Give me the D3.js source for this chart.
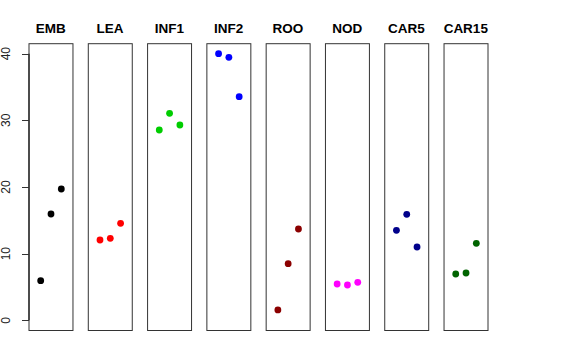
<!DOCTYPE html>
<html>
<head>
<meta charset="utf-8">
<script src="https://cdn.jsdelivr.net/npm/d3@7"></script>
<style>
  body { margin: 0; background: #fff; }
  svg { display: block; }
  text { font-family: "Liberation Sans", Arial, Helvetica, sans-serif; }
</style>
</head>
<body>
<svg id="chart" width="576" height="360"></svg>
<script>
const categories = ["EMB", "LEA", "INF1", "INF2", "ROO", "NOD", "CAR5", "CAR15"];
const colors = ["#000000", "#FF0000", "#00CD00", "#0000FF", "#8B0000", "#FF00FF", "#00008B", "#006400"];
const replicates = ["1", "2", "3"];
const values = [
  [5.95, 15.95, 19.7],
  [12.05, 12.3, 14.55],
  [28.55, 31.05, 29.3],
  [40.0, 39.45, 33.55],
  [1.55, 8.5, 13.7],
  [5.45, 5.3, 5.7],
  [13.5, 15.9, 11.0],
  [6.95, 7.1, 11.55]
];
const yTicks = [0, 10, 20, 30, 40];

const svg = d3.select("#chart");

const xBand = d3.scaleBand().domain(categories).range([28.5, 488]).paddingInner(0.25).paddingOuter(0);
const bw = xBand.bandwidth();
const xIn = d3.scalePoint().domain(replicates).range([12.2, 32.8]);
const y = d3.scaleLinear().domain([0, 40]).range([320.3, 53.7]);

const boxTop = 43.7, boxBottom = 330.5;

// panels
const panels = svg.selectAll("g.panel")
  .data(categories.map((c, i) => ({ cat: c, color: colors[i], vals: values[i] })))
  .join("g")
  .attr("class", "panel")
  .attr("transform", d => `translate(${xBand(d.cat)},0)`);

panels.append("rect")
  .attr("x", 0.5).attr("y", boxTop)
  .attr("width", bw - 0.5).attr("height", boxBottom - boxTop)
  .attr("fill", "none").attr("stroke", "#333").attr("stroke-width", 1);

panels.append("text")
  .attr("x", bw / 2).attr("y", 33)
  .attr("text-anchor", "middle")
  .attr("font-size", 13.5).attr("font-weight", "bold")
  .text(d => d.cat);

panels.selectAll("circle")
  .data(d => d.vals.map((v, j) => ({ v, rep: replicates[j], color: d.color })))
  .join("circle")
  .attr("cx", d => xIn(d.rep))
  .attr("cy", d => y(d.v))
  .attr("r", 3.4)
  .attr("fill", d => d.color);

// y axis
const axisG = svg.append("g").attr("transform", `translate(${xBand(categories[0]) + 0.5},0)`);
axisG.append("line")
  .attr("x1", 0).attr("x2", 0)
  .attr("y1", y(0)).attr("y2", y(40))
  .attr("stroke", "#000");
axisG.selectAll("line.tick")
  .data(yTicks).join("line")
  .attr("class", "tick")
  .attr("x1", -7).attr("x2", 0)
  .attr("y1", d => Math.round(y(d)) + 0.5).attr("y2", d => Math.round(y(d)) + 0.5)
  .attr("stroke", "#333");
axisG.selectAll("text.tl")
  .data(yTicks).join("text")
  .attr("class", "tl")
  .attr("transform", d => `translate(-19,${y(d)}) rotate(-90)`)
  .attr("text-anchor", "middle")
  .attr("font-size", 12)
  .attr("fill", "#222")
  .text(d => d);
</script>
</body>
</html>
